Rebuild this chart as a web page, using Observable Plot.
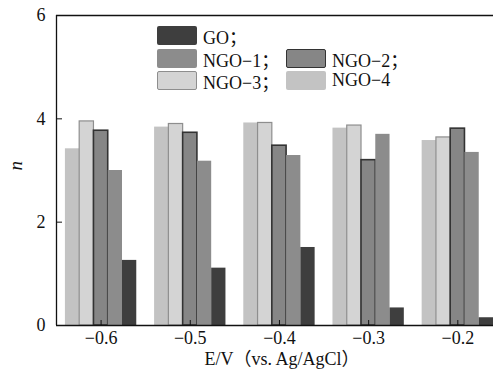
<!DOCTYPE html>
<html><head><meta charset="utf-8">
<script src="https://cdn.jsdelivr.net/npm/d3@7"></script>
<script src="https://cdn.jsdelivr.net/npm/@observablehq/plot@0.6"></script>
<style>
html,body{margin:0;padding:0;background:#fff;overflow:hidden}
#wrap{position:relative;width:493px;height:370px}
#legend{position:absolute;left:0;top:0;font-family:"Liberation Serif","Noto Sans CJK SC",serif;font-size:18px;color:#111}
.item{position:absolute;display:flex;align-items:center;height:19px;white-space:nowrap}
.sw{width:40px;height:19px;box-sizing:border-box;margin-right:6px;border-radius:2px}
</style></head><body><div id="wrap"></div>
<script>
// Data
const potentials = [-0.6, -0.5, -0.4, -0.3, -0.2];
const NGO4 = [3.42, 3.84, 3.92, 3.82, 3.58];
const NGO3 = [3.95, 3.90, 3.92, 3.87, 3.64];
const NGO2 = [3.77, 3.73, 3.48, 3.20, 3.81];
const NGO1 = [3.00, 3.18, 3.29, 3.70, 3.35];
const GO   = [1.26, 1.11, 1.51, 0.34, 0.15];
const yTicks = [0, 2, 4, 6];
const xLabel = "E/V（vs. Ag/AgCl）";
const yLabel = "n";

// series in drawing order within a group (left to right)
const series = [
  {name: "NGO−4", values: NGO4, fill: "#c3c3c3", stroke: "none", sw: 0},
  {name: "NGO−3", values: NGO3, fill: "#d4d4d4", stroke: "#8e8e8e", sw: 1.2},
  {name: "NGO−2", values: NGO2, fill: "#868686", stroke: "#333333", sw: 1.6},
  {name: "NGO−1", values: NGO1, fill: "#8c8c8c", stroke: "none", sw: 0},
  {name: "GO",    values: GO,   fill: "#3e3e3e", stroke: "none", sw: 0}
];
const legendItems = [
  {label: "GO；", s: 4, col: 0, row: 0},
  {label: "NGO−1；", s: 3, col: 0, row: 1},
  {label: "NGO−2；", s: 2, col: 1, row: 1},
  {label: "NGO−3；", s: 1, col: 0, row: 2},
  {label: "NGO−4", s: 0, col: 1, row: 2}
];

const barW = 0.016;
const xDomain = [-0.65, -0.16];
const fmt = d => (d < 0 ? "−" : "") + Math.abs(d).toFixed(1);

const barMarks = series.map((s, i) => Plot.rectY(
  potentials.map((E, j) => ({E, n: s.values[j]})),
  {
    x1: d => d.E + (i - 2.5) * barW,
    x2: d => d.E + (i - 1.5) * barW,
    y1: 0, y2: "n",
    fill: s.fill,
    stroke: s.stroke,
    strokeWidth: s.sw
  }
));

const chart = Plot.plot({
  width: 493,
  height: 370,
  marginLeft: 56,
  marginRight: 0,
  marginTop: 15,
  marginBottom: 45,
  style: {fontFamily: "'Liberation Serif', 'Noto Sans CJK SC', serif", fontSize: "18px", color: "#111", background: "#fff", maxWidth: "none"},
  x: {domain: xDomain, axis: null},
  y: {domain: [0, 6], axis: null},
  marks: [
    ...barMarks,
    Plot.ruleY([0, 6], {stroke: "#111", strokeWidth: 1.3}),
    Plot.ruleX([xDomain[0]], {stroke: "#111", strokeWidth: 1.3}),
    Plot.axisY({ticks: yTicks, tickSize: -6, tickPadding: 17, tickFormat: d => String(d), fontSize: 18, stroke: "#111", label: null}),
    Plot.axisX({ticks: potentials, tickSize: -5, tickPadding: 11, tickFormat: fmt, fontSize: 18, stroke: "#111", label: null}),
    Plot.text([xLabel], {text: d => d, frameAnchor: "bottom", dx: 7, dy: 34, fontSize: 18, lineAnchor: "middle", fill: "#111"}),
    Plot.text([yLabel], {text: d => d, frameAnchor: "left", dx: -41, rotate: -90, fontSize: 19, fontStyle: "italic", lineAnchor: "middle", fill: "#111"})
  ]
});

const wrap = document.getElementById("wrap");
wrap.appendChild(chart);

const legend = document.createElement("div");
legend.id = "legend";
const colX = [157, 286];
const rowY = [26, 49, 71];
for (const it of legendItems) {
  const s = series[it.s];
  const item = document.createElement("div");
  item.className = "item";
  item.style.left = colX[it.col] + "px";
  item.style.top = rowY[it.row] + "px";
  const sw = document.createElement("div");
  sw.className = "sw";
  sw.style.background = s.fill;
  sw.style.border = s.sw ? `${Math.max(1.5, s.sw)}px solid ${s.stroke}` : "none";
  const t = document.createElement("span");
  t.textContent = it.label;
  item.appendChild(sw);
  item.appendChild(t);
  legend.appendChild(item);
}
wrap.appendChild(legend);
</script>
</body></html>
